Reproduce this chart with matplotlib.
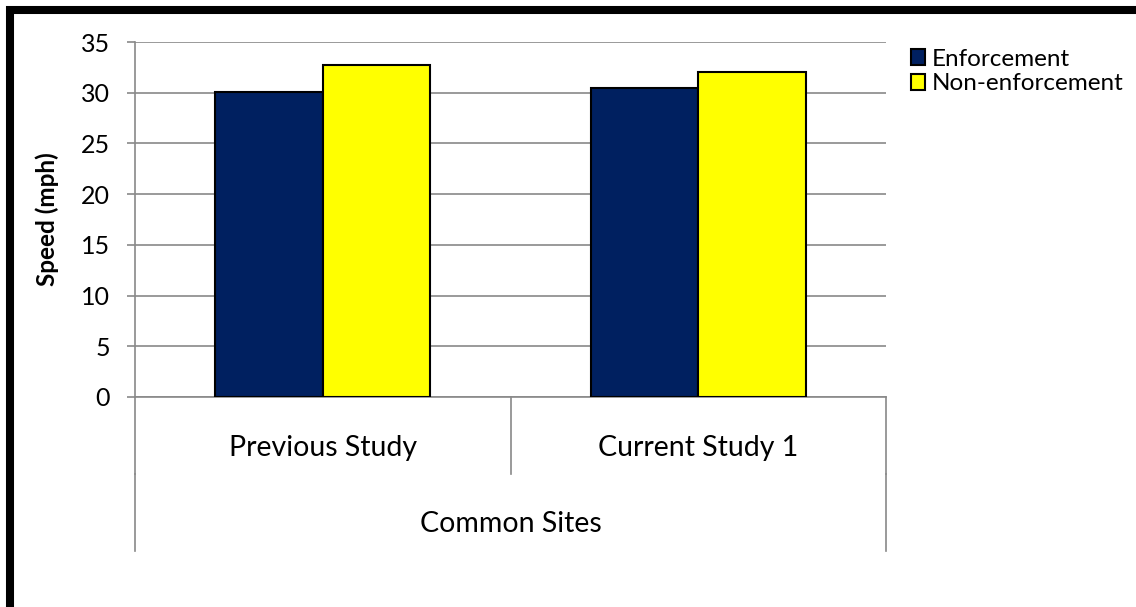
import matplotlib.pyplot as plt
import matplotlib.patches as mpatches
import matplotlib.transforms as mtransforms

plt.rcParams['font.family'] = ['Lato', 'DejaVu Sans']

# data
categories = ['Previous Study', 'Current Study 1']
group_label = 'Common Sites'
enforcement = [30.1, 30.5]
non_enforcement = [32.7, 32.0]
series_names = ['Enforcement', 'Non-enforcement']
y_ticks = [0, 5, 10, 15, 20, 25, 30, 35]

W, H = 1136, 607
fig = plt.figure(figsize=(W / 100, H / 100), dpi=100)
ax = fig.add_axes([135 / W, (H - 397) / H, (886 - 135) / W, (397 - 42) / H])

grid_col = '#898989'
width = 0.286
x = list(range(len(categories)))
b1 = ax.bar([i - width / 2 for i in x], enforcement, width, color='#002060',
            edgecolor='black', linewidth=1.5, zorder=3, label=series_names[0])
b2 = ax.bar([i + width / 2 for i in x], non_enforcement, width, color='#FFFF00',
            edgecolor='black', linewidth=1.5, zorder=3, label=series_names[1])

ax.set_xlim(-0.5, len(categories) - 0.5)
ax.set_ylim(0, 35)
ax.set_yticks(y_ticks)
ax.yaxis.grid(True, color=grid_col, linewidth=1.2, zorder=0)
ax.tick_params(axis='y', length=6, width=1.2, color=grid_col, labelsize=18, pad=12)
ax.set_xticks([])
for s in ['top', 'right']:
    ax.spines[s].set_visible(False)
for s in ['left', 'bottom']:
    ax.spines[s].set_color(grid_col)
    ax.spines[s].set_linewidth(1.2)
ax.set_ylabel('Speed (mph)', fontsize=17.5, fontweight='bold', labelpad=16)

# multi-level category axis
trans = mtransforms.blended_transform_factory(ax.transData, fig.transFigure)
y0 = (H - 397) / H
y1 = (H - 474) / H
y2 = (H - 551) / H
for xb in [-0.5, 0.5, 1.5]:
    ax.plot([xb, xb], [y0, y1], transform=trans, color=grid_col, lw=1.2, clip_on=False)
for xb in [-0.5, 1.5]:
    ax.plot([xb, xb], [y1, y2], transform=trans, color=grid_col, lw=1.2, clip_on=False)
for i, c in enumerate(categories):
    ax.text(i, (H - 448) / H, c, transform=trans, ha='center', va='center', fontsize=20.5)
ax.text(0.5, (H - 524) / H, group_label, transform=trans, ha='center', va='center', fontsize=20.5)

fig.legend(handles=[b1, b2], loc='upper left', bbox_to_anchor=(901 / W, (H - 39) / H),
           frameon=False, fontsize=17.5, handlelength=0.6, handleheight=0.6,
           handletextpad=0.25, labelspacing=0.15, borderaxespad=0)

# outer border
fig.patches.append(mpatches.Rectangle((10 / W, -0.1), 1.2, (H - 10) / H + 0.1,
                                      transform=fig.transFigure, fill=False,
                                      edgecolor='black', linewidth=5.8))

fig.savefig('out.png', dpi=100)
